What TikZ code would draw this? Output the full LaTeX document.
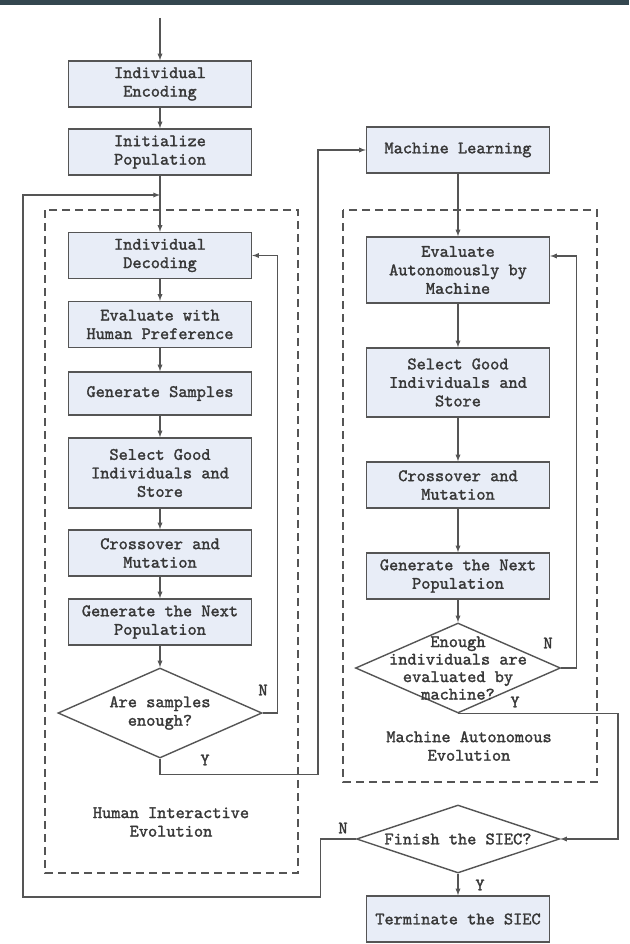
\documentclass[tikz,border=0pt]{standalone}
\usepackage{fontspec}
\newfontfamily\flowfont{lmmono10-regular.otf}[FakeBold=1.6]
\usetikzlibrary{shapes.geometric}
\definecolor{boxfill}{RGB}{232,237,247}
\definecolor{linegray}{RGB}{85,85,85}
\definecolor{textgray}{RGB}{55,55,55}
\definecolor{topband}{RGB}{52,71,79}
\tikzset{
  every node/.style={font=\fontsize{17.5}{18.5}\selectfont\flowfont, text=textgray},
  procbox/.style={draw=linegray, line width=1.4pt, fill=boxfill, align=center,
    minimum width=183pt, minimum height=46pt, inner sep=0pt},
  decision/.style={draw=linegray, line width=1.4pt, diamond, inner sep=0pt,
    minimum width=205pt, minimum height=90pt},
  flow/.style={draw=linegray, line width=1.3pt, -latex},
  group/.style={draw=linegray, line width=1.5pt, dash pattern=on 8pt off 5pt},
}
\begin{document}
\begin{tikzpicture}[x=1pt,y=-1pt]
  \pgfmathsetmacro{\colL}{160}
  \pgfmathsetmacro{\colR}{458}
  \useasboundingbox (0,0) rectangle (629,944);
  \fill[white] (0,0) rectangle (629,944);
  \fill[topband] (0,0) rectangle (629,5);
  % groups
  \draw[group] (45,210) rectangle (298,873);
  \draw[group] (343,210) rectangle (597,782);
  \node[align=center] (hlab) at (171,822) {Human Interactive\\Evolution};
  \node[align=center] (mlab) at (469,746) {Machine Autonomous\\Evolution};
  % left column
  \coordinate (start) at (\colL,18);
  \coordinate (join) at (\colL,195);
  \node[procbox] (enc) at (\colL,84) {Individual\\Encoding};
  \node[procbox] (init) at (\colL,152) {Initialize\\Population};
  \node[procbox] (dec) at (\colL,255.5) {Individual\\Decoding};
  \node[procbox] (evh) at (\colL,324.5) {Evaluate with\\Human Preference};
  \node[procbox, minimum height=43pt] (gen) at (\colL,393.5) {Generate Samples};
  \node[procbox, minimum height=70pt] (sel) at (\colL,473) {Select Good\\Individuals and\\Store};
  \node[procbox] (cro) at (\colL,553) {Crossover and\\Mutation};
  \node[procbox] (nxt) at (\colL,622) {Generate the Next\\Population};
  \node[decision, minimum width=204pt,
    label={[align=center]center:{Are samples\\enough?}}] (q1) at (\colL,713) {};
  % right column
  \node[procbox] (ml) at (\colR,150) {Machine Learning};
  \node[procbox, minimum height=66pt] (eva) at (\colR,270) {Evaluate\\Autonomously by\\Machine};
  \node[procbox, minimum height=69pt] (sel2) at (\colR,382.5) {Select Good\\Individuals and\\Store};
  \node[procbox] (cro2) at (\colR,485) {Crossover and\\Mutation};
  \node[procbox] (nxt2) at (\colR,576) {Generate the Next\\Population};
  \node[decision, label={[align=center, font=\fontsize{17.5}{17.5}\selectfont\flowfont]center:{Enough\\individuals are\\evaluated by\\machine?}}] (q2) at (\colR,668) {};
  \node[decision, minimum width=203pt, minimum height=68pt,
    label={center:Finish the SIEC?}] (fin) at (\colR,839) {};
  \node[procbox] (term) at (\colR,919) {Terminate the SIEC};
  % flow
  \draw[flow] (start) -- (enc);
  \foreach \a/\b in {enc/init, init/dec, dec/evh, evh/gen, gen/sel, sel/cro, cro/nxt, nxt/q1,
                     ml/eva, eva/sel2, sel2/cro2, cro2/nxt2, nxt2/q2}
    \draw[flow] (\a) -- (\b);
  \draw[flow] (q1.east) -- ++(15,0) |- (dec.east);
  \draw[flow] (q1.south) -- ++(0,16) -| (318,150) -- (ml.west);
  \draw[flow] (q2.east) -- ++(15,0) |- ([yshift=14pt]eva.east);
  \draw[flow] (q2.south) -- ++(160,0) |- (fin.east);
  \draw[flow] (fin.south) -- (term);
  \draw[flow] (fin.west) -- ++(-35,0) -- ++(0,58) -| (23,195) -- (join);
  % answers
  \node (q1n) at (263,690) {N};
  \node (q1y) at (205,760) {Y};
  \node (q2n) at (548,643) {N};
  \node (q2y) at (515,702) {Y};
  \node (finn) at (343,828) {N};
  \node (finy) at (480,885) {Y};
\end{tikzpicture}
\end{document}
